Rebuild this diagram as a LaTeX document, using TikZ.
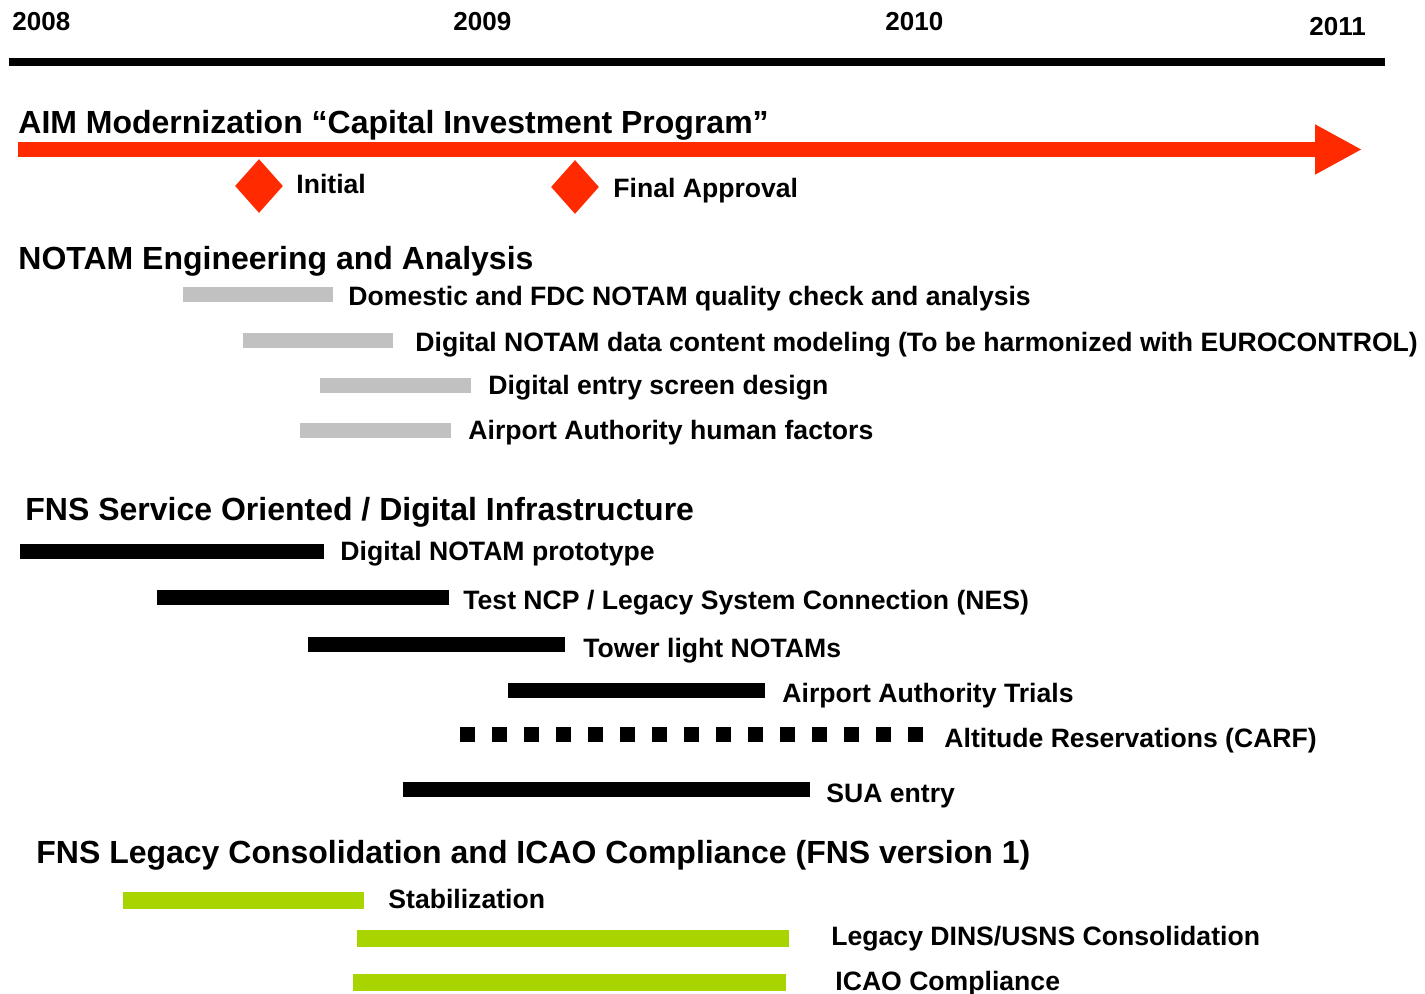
\documentclass[tikz,border=0pt]{standalone}
\usepackage{fontspec}
\setmainfont{Liberation Sans}
\usetikzlibrary{shapes.geometric,arrows.meta}
\definecolor{cipred}{HTML}{FF2A00}
\definecolor{bargray}{HTML}{C0C1C0}
\definecolor{bargreen}{HTML}{A8D400}
\tikzstyle{year} = [anchor=base west, inner sep=0pt,
    font=\fontsize{13}{15}\selectfont\bfseries]
\tikzstyle{head} = [anchor=base west, inner sep=0pt,
    font=\fontsize{16}{19}\selectfont\bfseries]
\tikzstyle{lbl} = [anchor=base west, inner sep=0pt,
    font=\fontsize{13.3}{15}\selectfont\bfseries]
\tikzstyle{graybar} = [line width=7.5pt, draw=bargray]
\tikzstyle{blackbar} = [line width=7.5pt, draw=black]
\tikzstyle{greenbar} = [line width=8.5pt, draw=bargreen]
\tikzstyle{milestone} = [diamond, fill=cipred, minimum width=24pt,
    minimum height=27pt, inner sep=0pt]

\begin{document}
\begin{tikzpicture}[x=0.5pt, y=-0.5pt]
    \useasboundingbox (0,0) rectangle (1425,994);

    % years
    \node (y2008) [year] at (12,31) {2008};
    \node (y2009) [year] at (453,31) {2009};
    \node (y2010) [year] at (885,31) {2010};
    \node (y2011) [year] at (1309,36) {2011};
    \draw[line width=4pt] (9,62) -- (1385,62);

    % capital investment program
    \node (cip) [head] at (18,134) {AIM Modernization “Capital Investment Program”};
    \draw[cipred, line width=7.5pt, -{Triangle[length=23.5pt, width=23.5pt]}] (18,149.5) -- (1362,149.5);
    \node (initial) [milestone] at (259,186) {};
    \node (initial_lbl) [lbl] at (296,194) {Initial};
    \node (final) [milestone] at (575,187) {};
    \node (final_lbl) [lbl] at (613,198) {Final Approval};

    % engineering and analysis
    \node (eng) [head] at (18,270) {NOTAM Engineering and Analysis};
    \draw[graybar] (183,295) -- (333,295);
    \node (eng_qc) [lbl] at (348,306) {Domestic and FDC NOTAM quality check and analysis};
    \draw[graybar] (243,340.5) -- (393,340.5);
    \node (eng_model) [lbl] at (415,352) {Digital NOTAM data content modeling (To be harmonized with EUROCONTROL)};
    \draw[graybar] (320,385.5) -- (471,385.5);
    \node (eng_screen) [lbl] at (488,395) {Digital entry screen design};
    \draw[graybar] (300,430.5) -- (451,430.5);
    \node (eng_hf) [lbl] at (468,440) {Airport Authority human factors};

    % service oriented infrastructure
    \node (fns) [head] at (25,521) {FNS Service Oriented / Digital Infrastructure};
    \draw[blackbar] (20,552) -- (324,552);
    \node (fns_proto) [lbl] at (340,560) {Digital NOTAM prototype};
    \draw[blackbar] (157,597) -- (449,597);
    \node (fns_ncp) [lbl] at (463,610) {Test NCP / Legacy System Connection (NES)};
    \draw[blackbar] (308,644) -- (565,644);
    \node (fns_tower) [lbl] at (583,657) {Tower light NOTAMs};
    \draw[blackbar] (508,690) -- (765,690);
    \node (fns_trials) [lbl] at (782,702) {Airport Authority Trials};
    \draw[blackbar, dash pattern=on 7.5pt off 8.5pt] (460,734) -- (923,734);
    \node (fns_carf) [lbl] at (944,747) {Altitude Reservations (CARF)};
    \draw[blackbar] (403,789) -- (810,789);
    \node (fns_sua) [lbl] at (826,802) {SUA entry};

    % legacy consolidation
    \node (leg) [head] at (36,863) {FNS Legacy Consolidation and ICAO Compliance (FNS version 1)};
    \draw[greenbar] (123,900.5) -- (364,900.5);
    \node (leg_stab) [lbl] at (388,908) {Stabilization};
    \draw[greenbar] (357,938.5) -- (789,938.5);
    \node (leg_dins) [lbl] at (831,945) {Legacy DINS/USNS Consolidation};
    \draw[greenbar] (353,982.5) -- (786,982.5);
    \node (leg_icao) [lbl] at (835,990) {ICAO Compliance};
\end{tikzpicture}
\end{document}
